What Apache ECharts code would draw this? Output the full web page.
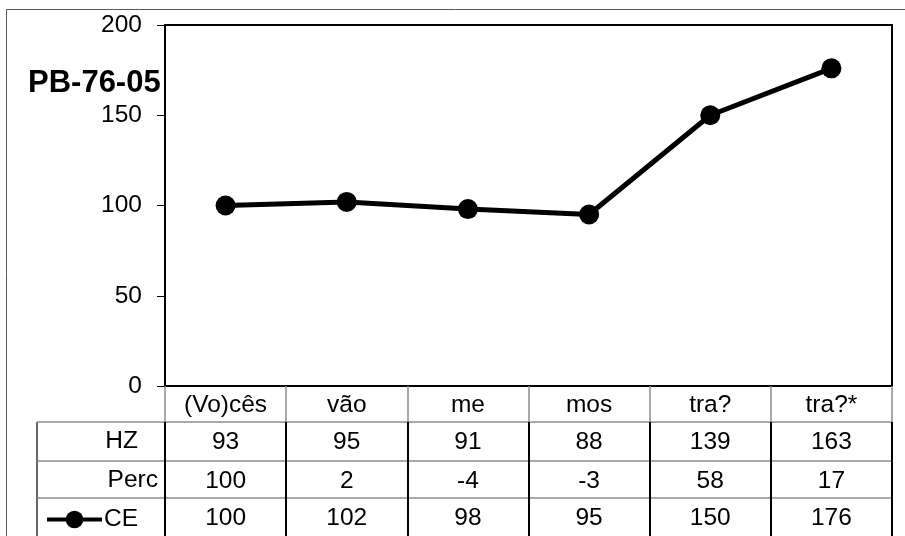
<!DOCTYPE html>
<html>
<head>
<meta charset="utf-8">
<script src="https://cdn.jsdelivr.net/npm/echarts@6/dist/echarts.min.js"></script>
<style>
  html, body { margin: 0; padding: 0; background: #fff; }
  #chart { width: 905px; height: 536px; }
</style>
</head>
<body>
<div id="chart"></div>
<script>
const categories = ["(Vo)cês", "vão", "me", "mos", "tra?", "tra?*"];
const hzValues = [93, 95, 91, 88, 139, 163];
const percValues = [100, 2, -4, -3, 58, 17];
const ceValues = [100, 102, 98, 95, 150, 176];
const yMin = 0;
const yMax = 200;
const yStep = 50;

const FONT = "'Liberation Sans', Arial, sans-serif";
const FS = 24.5;
const GRID_LEFT = 165, GRID_TOP = 25, GRID_RIGHT = 13, GRID_BOTTOM = 150;
const W = 905, H = 536;
const plotBottom = H - GRID_BOTTOM;
const rowGray = "#8c8c8c";

// one x axis per table row, sitting under the plot
function rowAxis(values, name, offset, tickLen, nameGap) {
  return {
    type: "category",
    position: "bottom",
    offset: offset,
    data: values.map(String),
    name: name,
    nameLocation: "start",
    nameGap: nameGap,
    nameTextStyle: {
      fontFamily: FONT, fontSize: FS, color: "#000",
      align: "right", verticalAlign: "top", padding: [7, 0, 0, 0],
    },
    axisLine: { show: true, lineStyle: { color: rowGray, width: 1.5 } },
    axisTick: { show: true, interval: 0, length: tickLen, lineStyle: { color: "#000", width: 2 } },
    axisLabel: { interval: 0, margin: 8, fontFamily: FONT, fontSize: FS, color: "#000" },
    splitLine: { show: false },
  };
}

const myChart = echarts.init(document.getElementById("chart"));
const option = {
  backgroundColor: "#fff",
  animation: false,
  title: {
    text: "PB-76-05",
    left: 23,
    top: 63,
    textStyle: { fontFamily: FONT, fontSize: 31, fontWeight: "bold", color: "#000" },
  },
  legend: {
    data: ["CE"],
    left: 40,
    top: 502,
    itemWidth: 55,
    itemHeight: 22,
    lineStyle: { width: 4 },
    textStyle: { fontFamily: FONT, fontSize: FS, color: "#000", padding: [0, 0, 0, -3] },
  },
  grid: {
    left: GRID_LEFT, top: GRID_TOP, right: GRID_RIGHT, bottom: GRID_BOTTOM,
    show: true, borderColor: "#000", borderWidth: 2,
  },
  xAxis: [
    {
      type: "category",
      position: "bottom",
      data: categories,
      boundaryGap: true,
      axisLine: { show: true, lineStyle: { color: "#000", width: 2 } },
      axisTick: { show: true, interval: 0, length: 36, lineStyle: { color: rowGray, width: 1.5 } },
      axisLabel: { interval: 0, margin: 7, fontFamily: FONT, fontSize: FS, color: "#000" },
      splitLine: { show: false },
    },
    rowAxis(hzValues, "HZ", 36, 39, 27),
    rowAxis(percValues, "Perc", 75, 37, 7),
    rowAxis(ceValues, "", 112, 40, 0),
  ],
  yAxis: {
    type: "value",
    min: yMin,
    max: yMax,
    interval: yStep,
    axisLine: { show: true, lineStyle: { color: "#000", width: 2 } },
    axisTick: { show: true, length: 8, lineStyle: { color: "#000", width: 1 } },
    axisLabel: { margin: 23, fontFamily: FONT, fontSize: FS, color: "#000" },
    splitLine: { show: false },
  },
  series: [
    {
      name: "CE",
      type: "line",
      xAxisIndex: 0,
      data: ceValues,
      symbol: "circle",
      symbolSize: 20,
      lineStyle: { color: "#000", width: 5 },
      itemStyle: { color: "#000" },
    },
  ],
  graphic: [
    // outer chart frame (top and left edges visible)
    { type: "line", shape: { x1: 6.5, y1: 9.5, x2: W, y2: 9.5 }, style: { stroke: "#595959", lineWidth: 1 } },
    { type: "line", shape: { x1: 6.5, y1: 9.5, x2: 6.5, y2: H }, style: { stroke: "#595959", lineWidth: 1 } },
    // header column of the data table
    { type: "line", shape: { x1: 37, y1: plotBottom + 36, x2: 37, y2: H }, style: { stroke: "#333", lineWidth: 1.5 } },
    { type: "line", shape: { x1: 37, y1: plotBottom + 36, x2: GRID_LEFT, y2: plotBottom + 36 }, style: { stroke: rowGray, lineWidth: 1.5 } },
    { type: "line", shape: { x1: 37, y1: plotBottom + 75, x2: GRID_LEFT, y2: plotBottom + 75 }, style: { stroke: rowGray, lineWidth: 1.5 } },
    { type: "line", shape: { x1: 37, y1: plotBottom + 112, x2: GRID_LEFT, y2: plotBottom + 112 }, style: { stroke: rowGray, lineWidth: 1.5 } },
  ],
};
myChart.setOption(option);
window.addEventListener("resize", function () {
  myChart.resize();
});
</script>
</body>
</html>
